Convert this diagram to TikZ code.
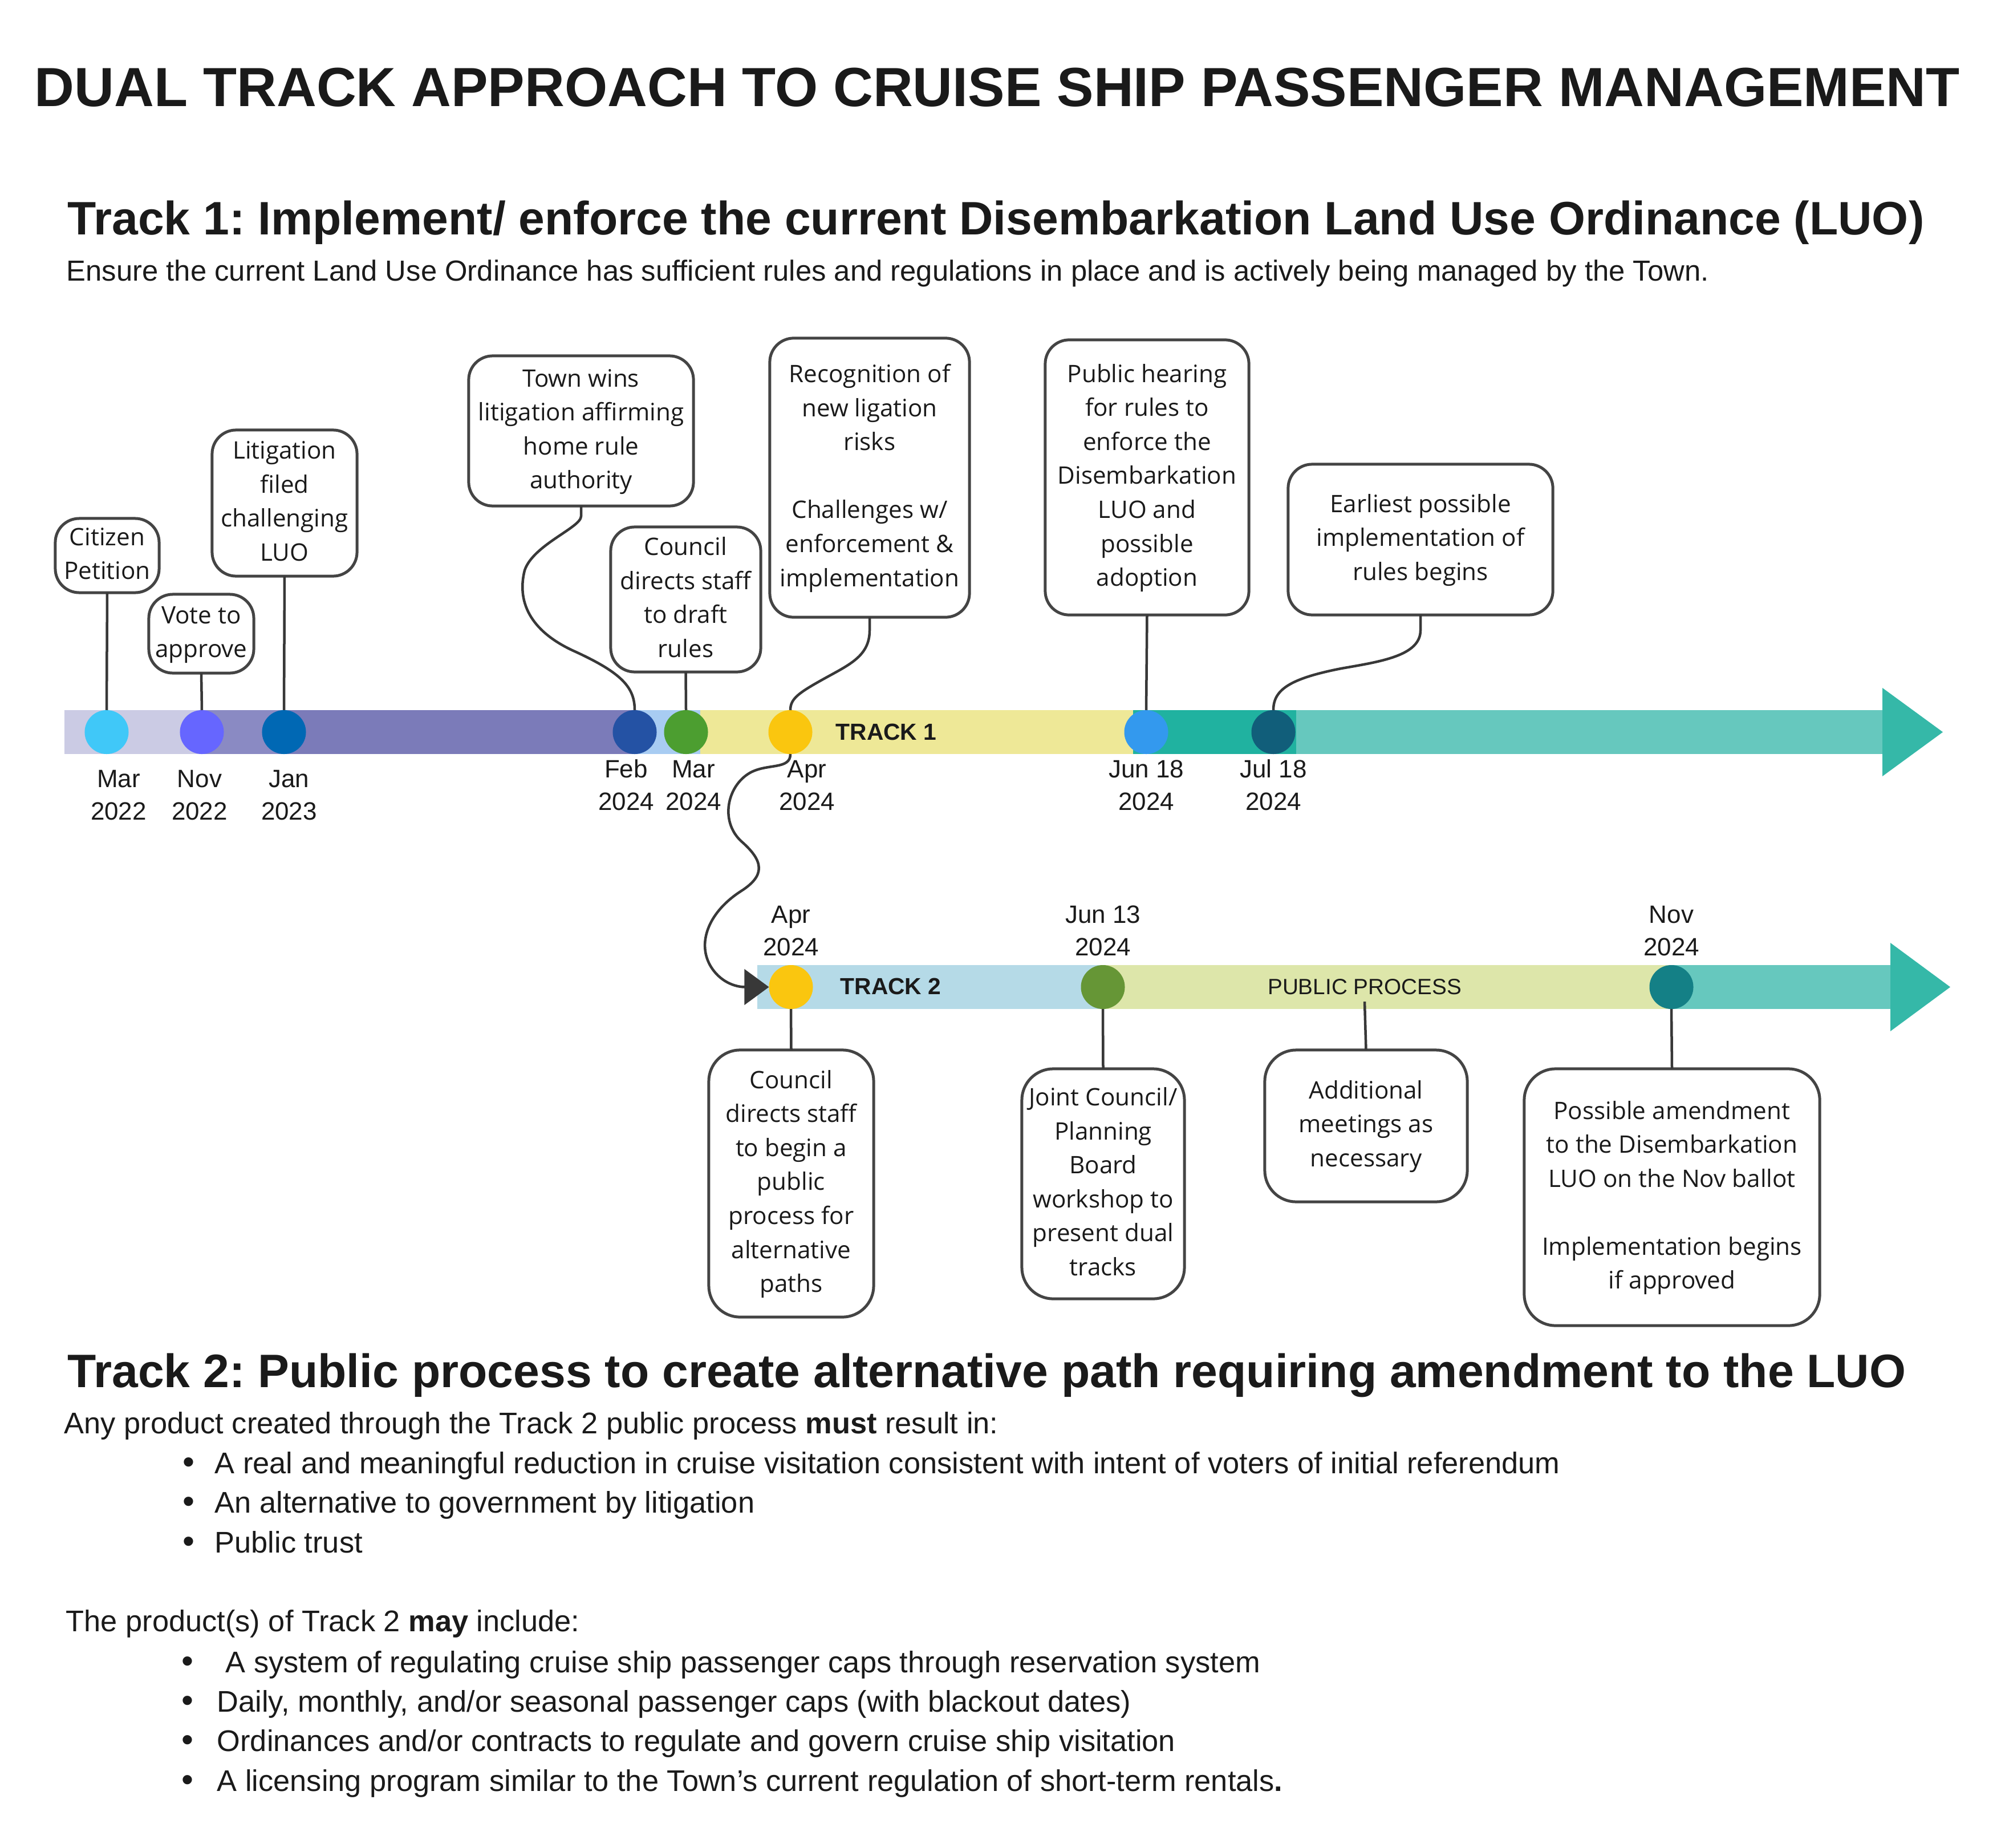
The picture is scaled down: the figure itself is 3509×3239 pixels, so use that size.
\documentclass[tikz,border=0pt]{standalone}
\usepackage{fontspec}
\setmainfont{Liberation Sans}
\newfontfamily\boxfamily{Open Sans}
\usetikzlibrary{arrows.meta}
\frenchspacing
\definecolor{ink}{HTML}{1A1A1A}
\definecolor{linec}{HTML}{383838}
\definecolor{boxc}{HTML}{444444}
\definecolor{tA}{HTML}{CBCBE4}
\definecolor{tB}{HTML}{8A8AC3}
\definecolor{tC}{HTML}{7B7BB9}
\definecolor{tD}{HTML}{A8CCF2}
\definecolor{tE}{HTML}{EEE897}
\definecolor{tF}{HTML}{20B2A0}
\definecolor{tG}{HTML}{66C8BE}
\definecolor{tH}{HTML}{35B8A8}
\definecolor{uA}{HTML}{B5DAE7}
\definecolor{uB}{HTML}{DDE6AA}
\definecolor{cMarA}{HTML}{40C8F8}
\definecolor{cNov}{HTML}{6666FF}
\definecolor{cJan}{HTML}{0068B4}
\definecolor{cFeb}{HTML}{2452A4}
\definecolor{cMarB}{HTML}{4C9E30}
\definecolor{cApr}{HTML}{FAC60F}
\definecolor{cJun}{HTML}{3399EE}
\definecolor{cJul}{HTML}{115E7A}
\definecolor{cJunB}{HTML}{669636}
\definecolor{cNovB}{HTML}{148086}
\newcommand\mylines[1]{\begin{tabular}{@{}c@{}}#1\end{tabular}}
\newcommand\mydate[1]{\begin{tabular}[t]{@{}c@{}}#1\end{tabular}}
\begin{document}
\begin{tikzpicture}[x=0.01cm,y=-0.01cm,
  callout/.style={draw=boxc, line width=0.05cm, rounded corners=0.42cm, fill=white,
    inner sep=0pt, outer sep=0pt, align=center, text=ink,
    font=\boxfamily\fontsize{12}{16.94}\selectfont},
  callout2/.style={callout, rounded corners=0.55cm},
  dot/.style={circle, minimum size=0.77cm, inner sep=0pt, outer sep=0pt},
  datelbl/.style={anchor=base, inner sep=0pt, text=ink, font=\fontsize{12.5}{16.4}\selectfont},
  conn/.style={draw=linec, line width=0.045cm},
  heading/.style={anchor=base west, inner sep=0pt, text=ink, font=\bfseries\fontsize{23.4}{28}\selectfont},
  bodytxt/.style={anchor=base west, inner sep=0pt, text=ink, font=\fontsize{14.9}{18}\selectfont},
  bul/.style={anchor=base, inner sep=0pt, text=ink, font=\fontsize{17}{18}\selectfont}
]
\useasboundingbox (0,0) rectangle (3509,3239);

% ---------- titles ----------
\node[anchor=base, inner sep=0pt, text=ink, font=\bfseries\fontsize{27.5}{32}\selectfont] (title) at (1749,186)
  {DUAL TRACK APPROACH TO CRUISE SHIP PASSENGER MANAGEMENT};
\node[heading] (h1) at (118,411) {Track 1: Implement/ enforce the current Disembarkation Land Use Ordinance (LUO)};
\node[bodytxt, font=\fontsize{14.45}{17}\selectfont] (sub1) at (116,492)
  {Ensure the current Land Use Ordinance has sufficient rules and regulations in place and is actively being managed by the Town.};

% ---------- track 1 bar ----------
\fill[tA] (113,1245) rectangle (354,1322);
\fill[tB] (354,1245) rectangle (498,1322);
\fill[tC] (498,1245) rectangle (1113,1322);
\fill[tD] (1113,1245) rectangle (1228,1322);
\fill[tE] (1228,1245) rectangle (1987,1322);
\fill[tF] (1987,1245) rectangle (2273,1322);
\fill[tG] (2273,1245) rectangle (3302,1322);
\fill[tH] (3301,1206) -- (3407,1283.5) -- (3301,1361) -- cycle;

% ---------- track 2 bar ----------
\fill[uA] (1328,1692) rectangle (1934,1769);
\fill[uB] (1934,1692) rectangle (2931,1769);
\fill[tG] (2931,1692) rectangle (3316,1769);
\fill[tH] (3315,1653) -- (3420,1730.5) -- (3315,1808) -- cycle;

\node[anchor=base, inner sep=0pt, text=ink, font=\bfseries\fontsize{11.6}{14}\selectfont] (trk1) at (1554,1297) {TRACK 1};
\node[anchor=base, inner sep=1pt, text=ink, font=\bfseries\fontsize{11.6}{14}\selectfont] (trk2) at (1562,1743) {TRACK 2};
\node[anchor=base, inner sep=0pt, text=ink, font=\fontsize{11}{14}\selectfont] (pp) at (2393,1743) {PUBLIC PROCESS};

% ---------- dots ----------
\node[dot, fill=cMarA] (c1) at (187,1283.5) {};
\node[dot, fill=cNov]  (c2) at (354,1283.5) {};
\node[dot, fill=cJan]  (c3) at (498,1283.5) {};
\node[dot, fill=cFeb]  (c4) at (1113,1283.5) {};
\node[dot, fill=cMarB] (c5) at (1203,1283.5) {};
\node[dot, fill=cApr]  (c6) at (1386,1283.5) {};
\node[dot, fill=cJun]  (c7) at (2010,1283.5) {};
\node[dot, fill=cJul]  (c8) at (2233,1283.5) {};
\node[dot, fill=cApr]  (e1) at (1387,1730.5) {};
\node[dot, fill=cJunB] (e2) at (1934,1730.5) {};
\node[dot, fill=cNovB] (e3) at (2931,1730.5) {};

% ---------- date labels ----------
\node[datelbl] (d1) at (208,1380) {\mydate{Mar\\2022}};
\node[datelbl] (d2) at (350,1380) {\mydate{Nov\\2022}};
\node[datelbl] (d3) at (507,1380) {\mydate{Jan\\2023}};
\node[datelbl] (d4) at (1098,1363) {\mydate{Feb\\2024}};
\node[datelbl] (d5) at (1216,1363) {\mydate{Mar\\2024}};
\node[datelbl] (d6) at (1415,1363) {\mydate{Apr\\2024}};
\node[datelbl] (d7) at (2010,1363) {\mydate{Jun 18\\2024}};
\node[datelbl] (d8) at (2233,1363) {\mydate{Jul 18\\2024}};
\node[datelbl] (f1) at (1387,1618) {\mydate{Apr\\2024}};
\node[datelbl] (f2) at (1934,1618) {\mydate{Jun 13\\2024}};
\node[datelbl] (f3) at (2931,1618) {\mydate{Nov\\2024}};

% ---------- track 1 callouts ----------
\node[callout, minimum width=1.82cm, minimum height=1.30cm] (b1) at (188,974) {\mylines{Citizen\\Petition}};
\node[callout, minimum width=1.84cm, minimum height=1.38cm] (b2) at (353,1111) {\mylines{Vote to\\approve}};
\node[callout, minimum width=2.54cm, minimum height=2.56cm] (b3) at (499,882) {\mylines{Litigation\\filed\\challenging\\LUO}};
\node[callout, minimum width=3.94cm, minimum height=2.63cm] (b4) at (1019,755.5) {\mylines{Town wins\\litigation affirming\\home rule\\authority}};
\node[callout, minimum width=2.63cm, minimum height=2.54cm] (b5) at (1202.5,1051) {\mylines{Council\\directs staff\\to draft\\rules}};
\node[callout, minimum width=3.50cm, minimum height=4.89cm] (b6) at (1525,837.5) {\mylines{Recognition of\\new ligation\\risks\\ \\Challenges w/\\enforcement \&\\implementation}};
\node[callout, minimum width=3.57cm, minimum height=4.82cm] (b7) at (2011.5,837) {\mylines{Public hearing\\for rules to\\enforce the\\Disembarkation\\LUO and\\possible\\adoption}};
\node[callout, minimum width=4.64cm, minimum height=2.64cm] (b8) at (2491,946) {\mylines{Earliest possible\\implementation of\\rules begins}};

% ---------- track 2 callouts ----------
\node[callout2, minimum width=2.89cm, minimum height=4.68cm] (b9) at (1387.5,2075) {\mylines{Council\\directs staff\\to begin a\\public\\process for\\alternative\\paths}};
\node[callout2, minimum width=2.85cm, minimum height=4.03cm] (b10) at (1934.5,2075.5) {\mylines{Joint Council/\\Planning\\Board\\workshop to\\present dual\\tracks}};
\node[callout2, minimum width=3.55cm, minimum height=2.66cm] (b11) at (2395.5,1974) {\mylines{Additional\\meetings as\\necessary}};
\node[callout2, minimum width=5.18cm, minimum height=4.50cm] (b12) at (2932,2099) {\mylines{Possible amendment\\to the Disembarkation\\LUO on the Nov ballot\\ \\Implementation begins\\if approved}};

% ---------- connectors track 1 ----------
\draw[conn] (b1.south) -- (c1.north);
\draw[conn] (b2.south) -- (c2.north);
\draw[conn] (b3.south) -- (c3.north);
\draw[conn] (b4.south) -- (1019,905) .. controls (1019,925) and (935,955) .. (920,1000)
   .. controls (905,1060) and (935,1110) .. (1010,1143)
   .. controls (1090,1180) and (1113,1205) .. (c4.north);
\draw[conn] (b5.south) -- (c5.north);
\draw[conn] (b6.south) -- (1525,1105) .. controls (1525,1150) and (1490,1165) .. (1445,1190)
   .. controls (1400,1215) and (1386,1225) .. (c6.north);
\draw[conn] (b7.south) -- (c7.north);
\draw[conn] (b8.south) -- (2491,1105) .. controls (2491,1150) and (2420,1160) .. (2352,1172)
   .. controls (2260,1190) and (2233,1210) .. (c8.north);

% ---------- cross-track arrow ----------
\draw[conn, -{Triangle[length=0.43cm,width=0.62cm]}] (c6.south)
   .. controls (1386,1350) and (1345,1338) .. (1315,1355)
   .. controls (1275,1378) and (1262,1440) .. (1300,1475)
   .. controls (1340,1510) and (1342,1535) .. (1300,1562)
   .. controls (1245,1597) and (1222,1650) .. (1245,1692)
   .. controls (1262,1722) and (1290,1730.5) .. (e1.west);

% ---------- connectors track 2 ----------
\draw[conn] (e1.south) -- (b9.north);
\draw[conn] (e2.south) -- (b10.north);
\draw[conn] (pp.south) ++(0,12) -- (b11.north);
\draw[conn] (e3.south) -- (b12.north);

% ---------- lower text ----------
\node[heading] (h2) at (118,2432) {Track 2: Public process to create alternative path requiring amendment to the LUO};
\node[bodytxt] (p1) at (112,2513) {Any product created through the Track 2 public process \textbf{must} result in:};
\node[bul] (m1) at (331,2583) {•};
\node[bodytxt] (t1) at (376,2583) {A real and meaningful reduction in cruise visitation consistent with intent of voters of initial referendum};
\node[bul] (m2) at (331,2652) {•};
\node[bodytxt] (t2) at (376,2652) {An alternative to government by litigation};
\node[bul] (m3) at (331,2722) {•};
\node[bodytxt] (t3) at (376,2722) {Public trust};
\node[bodytxt] (p2) at (115,2860) {The product(s) of Track 2 \textbf{may} include:};
\node[bul] (n1) at (329,2932) {•};
\node[bodytxt] (s1) at (395,2932) {A system of regulating cruise ship passenger caps through reservation system};
\node[bul] (n2) at (329,3001) {•};
\node[bodytxt] (s2) at (380,3001) {Daily, monthly, and/or seasonal passenger caps (with blackout dates)};
\node[bul] (n3) at (329,3070) {•};
\node[bodytxt] (s3) at (380,3070) {Ordinances and/or contracts to regulate and govern cruise ship visitation};
\node[bul] (n4) at (329,3140) {•};
\node[bodytxt] (s4) at (380,3140) {A licensing program similar to the Town’s current regulation of short-term rentals\textbf{.}};
\end{tikzpicture}
\end{document}
